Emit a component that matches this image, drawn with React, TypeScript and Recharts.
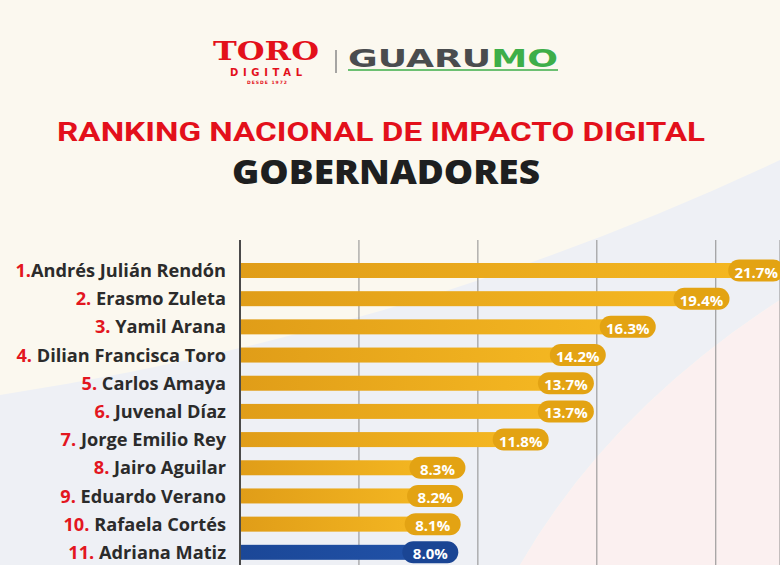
import { BarChart, Bar, XAxis, YAxis, CartesianGrid } from 'recharts';

const ranks = ['1.', '2. ', '3. ', '4. ', '5. ', '6. ', '7. ', '8. ', '9. ', '10. ', '11. '];
const names = [
    'Andrés Julián Rendón',
    'Erasmo Zuleta',
    'Yamil Arana',
    'Dilian Francisca Toro',
    'Carlos Amaya',
    'Juvenal Díaz',
    'Jorge Emilio Rey',
    'Jairo Aguilar',
    'Eduardo Verano',
    'Rafaela Cortés',
    'Adriana Matiz',
];
const values = [21.7, 19.4, 16.3, 14.2, 13.7, 13.7, 11.8, 8.3, 8.2, 8.1, 8.0];
const highlighted = ['Adriana Matiz'];
const gridTicks = [0, 5, 10, 15, 20];

const data = names.map((name, i) => ({ name, rank: ranks[i], value: values[i] }));

const labelFont = '"Open Sans", sans-serif';

function NameTick(props: any) {
    const { x, y, payload } = props;
    const row = data.find((d) => d.name === payload.value);
    return (
        <text x={x} y={y} textAnchor="end" dominantBaseline="central" fontFamily={labelFont} fontWeight={700} fontSize={18.2}>
            <tspan fill="#E3161F">{row ? row.rank : ''}</tspan>
            <tspan fill="#2B2B2B">{payload.value}</tspan>
        </text>
    );
}

function BarWithPill(props: any) {
    const { x, y, width, height, payload } = props;
    const blue = highlighted.includes(payload.name);
    const cx = x + width;
    const cy = y + height / 2;
    const pw = 56;
    const ph = 22;
    return (
        <g>
            <rect x={x} y={y} width={width} height={height} fill={blue ? 'url(#blueBar)' : 'url(#goldBar)'} />
            <rect x={cx - pw / 2} y={cy - ph / 2} width={pw} height={ph} rx={ph / 2} fill={blue ? '#1A4594' : '#E3A313'} />
            <text x={cx} y={cy + 1} textAnchor="middle" dominantBaseline="central" fill="#fff" fontFamily='"Open Sans", sans-serif' fontWeight={700} fontSize={15}>
                {payload.value.toFixed(1)}%
            </text>
        </g>
    );
}

export default function App() {
    return (
        <div style={{ position: 'absolute', left: 0, top: 0, width: 780, height: 565, overflow: 'hidden', background: '#FBF8EF' }}>
            <svg width={780} height={565} style={{ position: 'absolute', left: 0, top: 0 }}>
                <defs>
                    <linearGradient id="goldBar" x1="0" y1="0" x2="1" y2="0">
                        <stop offset="0%" stopColor="#E09D18" />
                        <stop offset="100%" stopColor="#F5B822" />
                    </linearGradient>
                    <linearGradient id="blueBar" x1="0" y1="0" x2="1" y2="0">
                        <stop offset="0%" stopColor="#1B4797" />
                        <stop offset="100%" stopColor="#2152A8" />
                    </linearGradient>
                </defs>
                <path d="M0,395 Q420,330 780,160 L780,300 Q610,410 520,565 L0,565 Z" fill="#EEF0F5" />
                <path d="M780,300 Q610,410 520,565 L780,565 Z" fill="#FBF0F0" />

                {/* logos */}
                <text x={266} y={60} textAnchor="middle" fontFamily='"DejaVu Serif", serif' fontWeight={700} fontSize={26} fill="#E3101B" textLength={106} lengthAdjust="spacingAndGlyphs">TORO</text>
                <text x={266} y={76} textAnchor="middle" fontFamily='"DejaVu Sans", sans-serif' fontWeight={700} fontSize={10} fill="#E3101B" textLength={72} lengthAdjust="spacing">DIGITAL</text>
                <text x={267} y={84} textAnchor="middle" fontFamily='"DejaVu Sans", sans-serif' fontWeight={700} fontSize={4.5} fill="#E3101B" textLength={40} lengthAdjust="spacing">DESDE 1972</text>
                <line x1={336} y1={50} x2={336} y2={73} stroke="#8A8A8A" strokeWidth={1.5} />
                <text x={348} y={67} fontFamily='"DejaVu Sans", sans-serif' fontWeight={700} fontSize={25} textLength={210} lengthAdjust="spacingAndGlyphs">
                    <tspan fill="#4A4C4E">GUARU</tspan>
                    <tspan fill="#3DAE49">MO</tspan>
                </text>
                <line x1={348} y1={70} x2={558} y2={70} stroke="#3DAE49" strokeWidth={1.5} />

                {/* titles */}
                <text x={381} y={141} textAnchor="middle" fontFamily="Roboto, sans-serif" fontWeight={700} fontSize={26} fill="#E3101B" textLength={648} lengthAdjust="spacingAndGlyphs">
                    RANKING NACIONAL DE IMPACTO DIGITAL
                </text>
                <text x={386} y={184} textAnchor="middle" fontFamily='"Open Sans", sans-serif' fontWeight={800} fontSize={33} fill="#1E1F20" textLength={308} lengthAdjust="spacingAndGlyphs">
                    GOBERNADORES
                </text>
            </svg>

            <div style={{ position: 'absolute', left: 0, top: 0 }}>
                <BarChart width={780} height={566} data={data} layout="vertical" margin={{ top: 240, right: 0, bottom: 0, left: 0 }} barSize={15}>
                    <CartesianGrid horizontal={false} stroke="#8C8C8C" strokeWidth={1} />
                    <XAxis type="number" hide domain={[0, 22.7]} ticks={gridTicks} allowDataOverflow />
                    <YAxis
                        type="category"
                        dataKey="name"
                        width={240}
                        padding={{ top: 16, bottom: 0 }}
                        tickLine={false}
                        tickSize={0}
                        tickMargin={14}
                        axisLine={{ stroke: '#4A4A4A', strokeWidth: 2 }}
                        tick={<NameTick />}
                        interval={0}
                    />
                    <Bar dataKey="value" isAnimationActive={false} shape={<BarWithPill />} />
                </BarChart>
            </div>
        </div>
    );
}
